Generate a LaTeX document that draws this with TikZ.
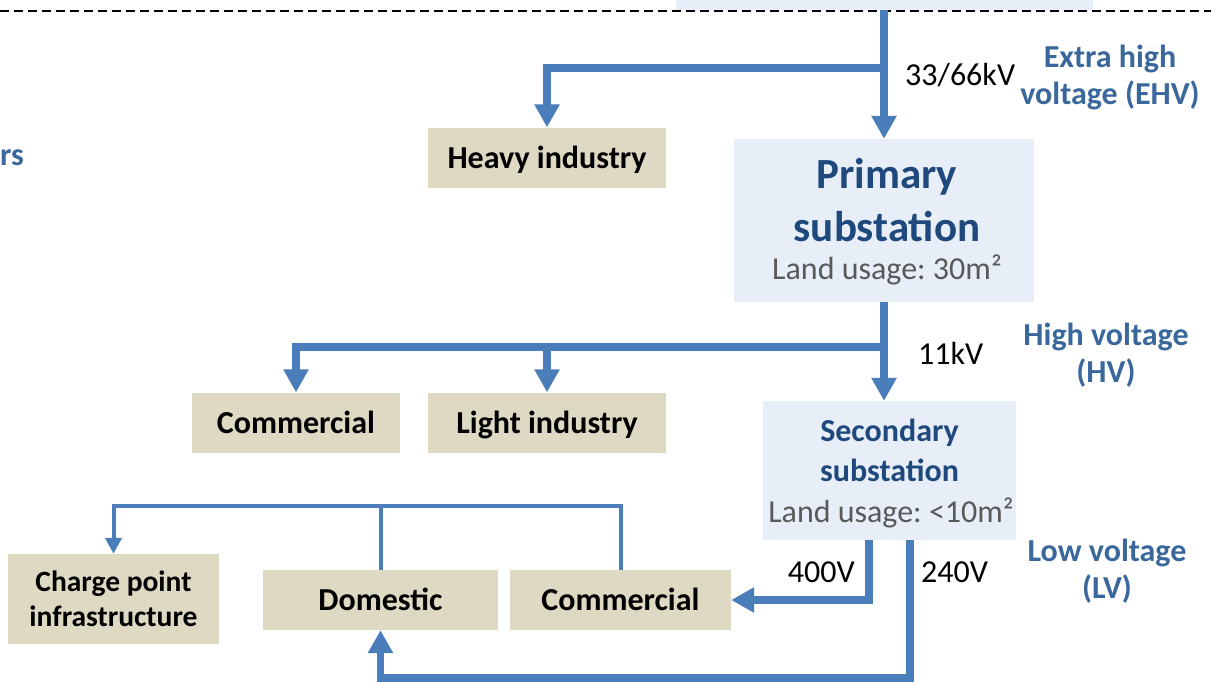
\documentclass[tikz,border=0pt]{standalone}
\usepackage{fontspec}
\setmainfont{Carlito}
\usetikzlibrary{arrows.meta}
\frenchspacing
\definecolor{lineblue}{HTML}{4A7EBB}
\definecolor{tan}{HTML}{DDD9C3}
\definecolor{boxblue}{HTML}{E7EEF8}
\definecolor{lblblue}{HTML}{3A679C}
\definecolor{darkblue}{HTML}{1F497D}
\definecolor{txtgray}{HTML}{595959}
\newcommand{\fsA}{\fontsize{32}{37}\selectfont}
\newcommand{\fsC}{\fontsize{29.5}{35}\selectfont}
\newcommand{\fsB}{\fontsize{43}{50}\selectfont}
\tikzset{
  tanbox/.style={fill=tan, draw=none, align=center, inner sep=0pt, font=\fsA\bfseries},
  oneline/.style={text height=21pt, text depth=0pt},
  subbox/.style={fill=boxblue, draw=none, align=center, inner sep=0pt},
  thk/.style={draw=lineblue, line width=7.5pt, -{Triangle[width=24pt,length=23pt]}},
  thn/.style={draw=lineblue, line width=4pt},
  thnarr/.style={draw=lineblue, line width=4pt, -{Triangle[width=16pt,length=16pt]}},
  volt/.style={font=\fsA, text=black, inner sep=0pt},
  lvl/.style={font=\fsA\bfseries, text=lblblue, align=center, inner sep=0pt},
}
\begin{document}
\begin{tikzpicture}[x=1pt,y=-1pt]
\useasboundingbox (0,0) rectangle (1211,681);
% top partial box
\node[subbox, minimum width=417pt, minimum height=40pt] (top) at (884,-10) {};
\draw[black, line width=2.2pt, dash pattern=on 9pt off 5pt] (0,11) -- (1211,11);

% boxes
\node[tanbox, oneline, minimum width=238pt, minimum height=60pt] (heavy) at (547,157.5) {Heavy industry};
\node[subbox, minimum width=300pt, minimum height=163pt] (primary) at (884,220.5) {};
\node[font=\fsB\bfseries, text=darkblue, inner sep=0pt] (ptitle1) at (887,177) {Primary};
\node[font=\fsB\bfseries, text=darkblue, inner sep=0pt] (ptitle2) at (887,227) {substation};
\node[font=\fsA, text=txtgray, inner sep=0pt] (pland) at (887,270) {Land usage: 30m²};

\node[tanbox, oneline, minimum width=208pt, minimum height=60pt] (com1) at (296,422.5) {Commercial};
\node[tanbox, oneline, minimum width=238pt, minimum height=60pt] (light) at (547,422.5) {Light industry};

\node[subbox, minimum width=253pt, minimum height=139pt] (secondary) at (889.5,470.5) {};
\node[font=\fsA\bfseries, text=darkblue, inner sep=0pt] (stitle1) at (889.5,433) {Secondary};
\node[font=\fsA\bfseries, text=darkblue, inner sep=0pt] (stitle2) at (889.5,470) {substation};
\node[font=\fsA, text=txtgray, inner sep=0pt] (sland) at (891,513) {Land usage: <10m²};

\node[tanbox, font=\fsC\bfseries, minimum width=211pt, minimum height=90pt] (charge) at (113.5,599) {Charge point\\infrastructure};
\node[tanbox, oneline, minimum width=235pt, minimum height=60pt] (domestic) at (380.5,600) {Domestic};
\node[tanbox, oneline, minimum width=221pt, minimum height=60pt] (com2) at (620.5,600) {Commercial};

% labels
\node[volt, anchor=west] (v1) at (905,75) {33/66kV};
\node[volt, anchor=west] (v2) at (918,353) {11kV};
\node[volt, anchor=east] (v3) at (855,572) {400V};
\node[volt, anchor=west] (v4) at (921,572) {240V};
\node[lvl] (ehv) at (1110,77) {Extra high\\voltage (EHV)};
\node[lvl] (hv) at (1106,355) {High voltage\\(HV)};
\node[lvl] (lv) at (1107,571) {Low voltage\\(LV)};
\node[lvl, anchor=west] (rs) at (0,158) {rs};

% connectors
\draw[thk] (top.south) -- (primary.north);
\draw[thk] (top.south |- 0,68) -| (heavy.north);
\draw[thk] (primary.south) -- (primary.south |- secondary.north);
\draw[thk] (primary.south |- 0,347) -| (com1.north);
\draw[thk] (light.north |- 0,347) -- (light.north);
\draw[thk] (secondary.south -| 869,0) |- (com2.east);
\draw[thk] (secondary.south -| 910,0) -- (910,678) -| (domestic.south);
\draw[thn] (domestic.north) -- (domestic.north |- 0,506);
\draw[thnarr] (com2.north) -- ++(0,-64) -| (charge.north);
\end{tikzpicture}
\end{document}
